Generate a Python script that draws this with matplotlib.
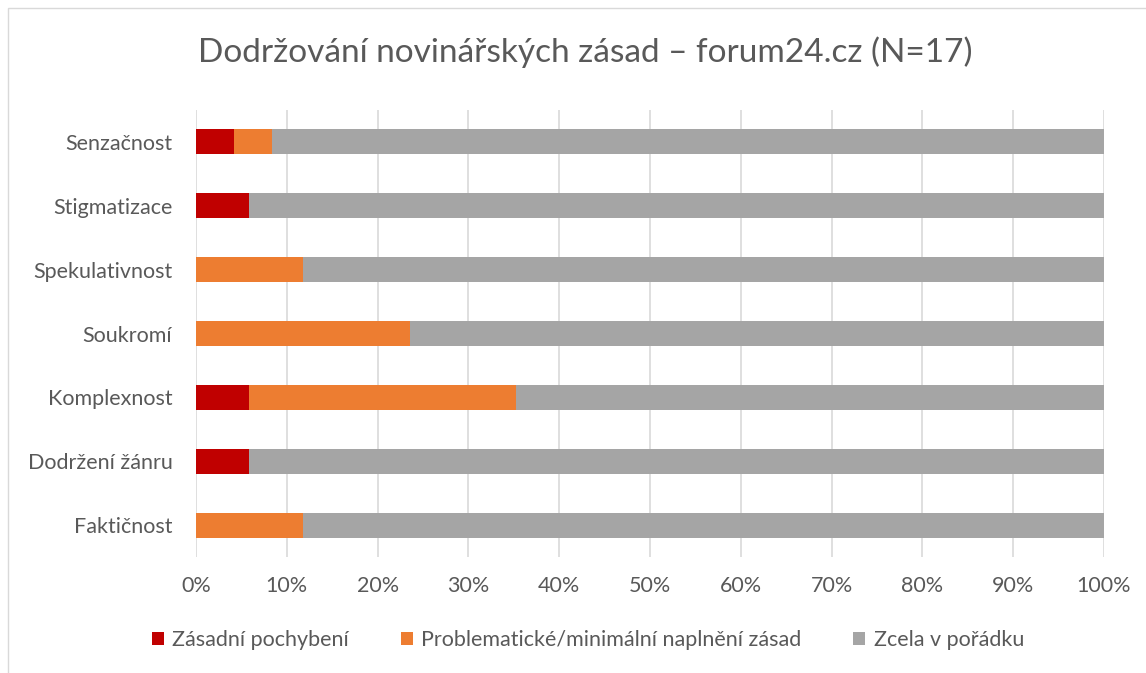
import numpy as np
import matplotlib
matplotlib.use('Agg')
from matplotlib import pyplot as plt
from matplotlib.patches import Rectangle

plt.rcParams['font.family'] = ['Lato', 'DejaVu Sans']

# Data (percent)
categories = ['Faktičnost', 'Dodržení žánru', 'Komplexnost', 'Soukromí',
              'Spekulativnost', 'Stigmatizace', 'Senzačnost']
zasadni = [0, 5.88, 5.88, 0, 0, 5.88, 4.2]
problem = [11.76, 0, 29.41, 23.53, 11.76, 0, 4.2]
v_poradku = [100 - a - b for a, b in zip(zasadni, problem)]

series_names = ['Zásadní pochybení', 'Problematické/minimální naplnění zásad',
                'Zcela v pořádku']
colors = ['#c00000', '#ed7d31', '#a5a5a5']

fig = plt.figure(figsize=(11.46, 6.73), dpi=100)
ax = fig.add_axes([196/1146, 1 - 557/673, (1104-196)/1146, (557-110)/673])

y = np.arange(len(categories))
left = np.zeros(len(categories))
for vals, name, c in zip([zasadni, problem, v_poradku], series_names, colors):
    ax.barh(y, vals, left=left, height=0.39, color=c, label=name, zorder=3)
    left += np.array(vals)

ax.set_xlim(0, 100)
ax.set_ylim(-0.5, 6.5)
ax.set_yticks(y)
ax.set_yticklabels(categories)
ax.set_xticks(np.arange(0, 101, 10))
ax.set_xticklabels([f'{v}%' for v in range(0, 101, 10)])
ax.tick_params(axis='both', length=0, labelsize=15.5, labelcolor='#595959')
ax.tick_params(axis='x', pad=14)
ax.tick_params(axis='y', pad=17)
ax.grid(axis='x', color='#d9d9d9', linewidth=1.2, zorder=0)
for s in ax.spines.values():
    s.set_visible(False)

fig.text(585/1146, 1 - 52/673, 'Dodržování novinářských zásad – forum24.cz (N=17)',
         ha='center', va='center', fontsize=24, color='#595959')

fig.legend(loc='center', bbox_to_anchor=(588/1146, 1 - 640/673), ncol=3, frameon=False,
           fontsize=15.5, labelcolor='#595959', handlelength=0.55, handleheight=0.55,
           handletextpad=0.4, columnspacing=2.4)

fig.patches.append(Rectangle((8/1146, -0.01), 1.0, 1 - 8/673 + 0.01,
                             transform=fig.transFigure, fill=False,
                             edgecolor='#d9d9d9', linewidth=1))

fig.savefig('out.png', dpi=100)
